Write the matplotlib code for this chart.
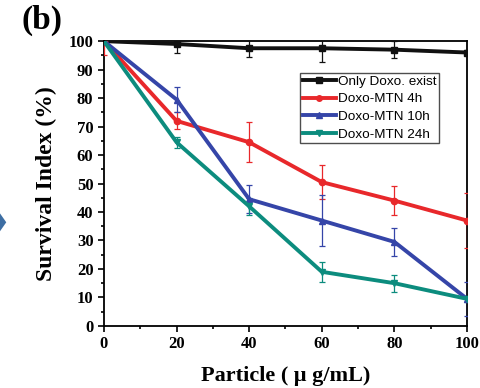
import matplotlib
matplotlib.use("Agg")
import matplotlib.pyplot as plt
from matplotlib.patches import Polygon
from matplotlib.lines import Line2D
from matplotlib.ticker import MultipleLocator

x = [0, 20, 40, 60, 80, 100]
only_doxo = [100, 99, 97.5, 97.5, 97, 96]
only_doxo_err = [0.5, 3, 3, 5, 3, 1]
mtn_4h = [100, 72, 64.5, 50.5, 44, 37]
mtn_4h_err = [5, 3, 7, 6, 5, 9.5]
mtn_10h = [100, 79.5, 44.5, 37, 29.5, 9.5]
mtn_10h_err = [1, 4.5, 5, 9, 5, 6]
mtn_24h = [100, 64.5, 42, 19, 15, 9.5]
mtn_24h_err = [1, 2, 3, 3.5, 3, 1]

labels = ["Only Doxo. exist", "Doxo-MTN 4h", "Doxo-MTN 10h", "Doxo-MTN 24h"]
colors = ["#111111", "#e8282b", "#3545a8", "#0c8c7e"]
markers = ["s", "o", "^", "v"]

fig = plt.figure(figsize=(4.81, 3.88), dpi=100)
ax = fig.add_axes([0.216, 0.16, 0.755, 0.734])

serif = ["Liberation Serif", "DejaVu Serif"]
series = [(only_doxo, only_doxo_err), (mtn_4h, mtn_4h_err), (mtn_10h, mtn_10h_err), (mtn_24h, mtn_24h_err)]
handles = []
for (ys, es), lab, c, m in zip(series, labels, colors, markers):
    ax.errorbar(x, ys, yerr=es, color=c, ecolor=c, elinewidth=0.9, capsize=2.5, capthick=0.9,
                lw=2.8, marker=m, ms=4.5, zorder=3)
    handles.append(Line2D([], [], color=c, lw=2.8, marker=m, ms=4))

ax.set_xlim(0, 100)
ax.set_ylim(0, 100)
ax.xaxis.set_major_locator(MultipleLocator(20))
ax.xaxis.set_minor_locator(MultipleLocator(10))
ax.yaxis.set_major_locator(MultipleLocator(10))
ax.yaxis.set_minor_locator(MultipleLocator(5))
ax.tick_params(which="both", direction="out", top=False, right=False, width=1.2)
ax.tick_params(which="major", length=4)
ax.tick_params(which="minor", length=2.5)
for s in ax.spines.values():
    s.set_linewidth(1.3)
for t in ax.get_xticklabels() + ax.get_yticklabels():
    t.set_fontfamily(serif)
    t.set_fontweight("bold")
    t.set_fontsize(12)

ax.set_ylabel("Survival Index (%)", fontfamily=serif, fontweight="bold", fontsize=17, labelpad=8)
ax.set_xlabel("Particle ( \u03bc g/mL)", fontfamily=serif, fontweight="bold", fontsize=16, labelpad=10)

leg = ax.legend(handles, labels, loc="upper right", bbox_to_anchor=(0.922, 0.889),
                prop={"family": "Liberation Sans", "size": 9.7},
                frameon=True, fancybox=False, edgecolor="#222222", handlelength=2.45, handletextpad=0.15,
                borderpad=0.2, labelspacing=0.38, borderaxespad=0)
leg.get_frame().set_linewidth(1.0)

fig.text(0.045, 0.925, "(b)", fontfamily=serif, fontweight="bold", fontsize=24)

fig.patches.append(Polygon([[0.0, 0.45], [0.013, 0.427], [0.0, 0.404]], closed=True,
                           transform=fig.transFigure, facecolor="#3d6ea3", edgecolor="none"))

fig.savefig("out.png", dpi=100)
